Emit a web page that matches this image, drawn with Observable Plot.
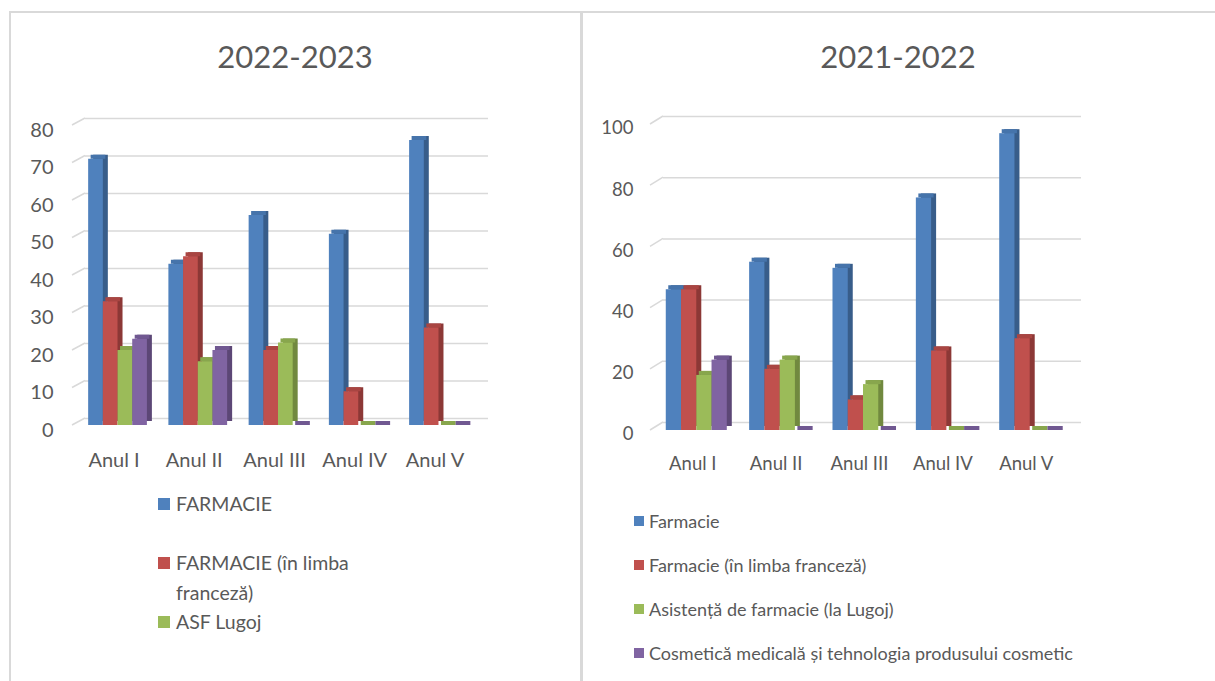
<!DOCTYPE html>
<html>
<head>
<meta charset="utf-8">
<script src="https://cdn.jsdelivr.net/npm/d3@7"></script>
<script src="https://cdn.jsdelivr.net/npm/@observablehq/plot@0.6"></script>
<style>
  html, body { margin: 0; padding: 0; background: #fff; }
  #root { position: relative; width: 1215px; height: 681px; overflow: hidden; background: #fff; font-family: Lato, "Open Sans", sans-serif; color: #595959; }
  .line { position: absolute; background: #D9D9D9; }
  .title { position: absolute; transform: translate(-50%, -50%); font-size: 31px; white-space: nowrap; color: #595959; }
  .chart { position: absolute; top: 100px; }
  .leg { position: absolute; white-space: nowrap; color: #595959; }
  .sw { position: absolute; }
</style>
</head>
<body>
<div id="root">
  <div class="line" style="left:9px; top:11px; width:1206px; height:2px;"></div>
  <div class="line" style="left:9px; top:11px; width:2px; height:670px;"></div>
  <div class="line" style="left:580px; top:11px; width:3px; height:670px;"></div>
  <div class="title" style="left:295px; top:56px;">2022-2023</div>
  <div class="title" style="left:898px; top:56px;">2021-2022</div>
  <div id="left" class="chart" style="left:10px;"></div>
  <div id="right" class="chart" style="left:583px;"></div>
  <div id="legL"></div>
  <div id="legR"></div>
</div>
<script>
// ---- data ----
const categories = ["Anul I", "Anul II", "Anul III", "Anul IV", "Anul V"];

// 2022-2023
const seriesLeft = ["FARMACIE", "FARMACIE (în limba franceză)", "ASF Lugoj", "Cosmetică medicală"];
const leftFarmacie = [71, 43, 56, 51, 76];
const leftFranceza = [33, 45, 20, 9, 26];
const leftAsfLugoj = [20, 17, 22, 0, 0];
const leftCosmetica = [23, 20, 0, 0, 0];
const leftTicks = [0, 10, 20, 30, 40, 50, 60, 70, 80];

// 2021-2022
const seriesRight = ["Farmacie", "Farmacie (în limba franceză)", "Asistență de farmacie (la Lugoj)", "Cosmetică medicală și tehnologia produsului cosmetic"];
const rightFarmacie = [46, 55, 53, 76, 97];
const rightFranceza = [46, 20, 10, 26, 30];
const rightAsistenta = [18, 23, 15, 0, 0];
const rightCosmetica = [23, 0, 0, 0, 0];
const rightTicks = [0, 20, 40, 60, 80, 100];

const frontColors = ["#4F81BD", "#C0504D", "#9BBB59", "#8064A2"];
const topColors = ["#4674AB", "#A94542", "#88A64D", "#705891"];
const sideColors = ["#385D8A", "#8C3836", "#71893F", "#5C4776"];

function buildChart(cfg) {
  const barW = 0.183;
  const marks = [];
  marks.push(Plot.ruleY(cfg.ticks, {y: d => d, stroke: "#D9D9D9", strokeWidth: 1.5, dx: cfg.backDx, dy: cfg.backDy}));
  cfg.series.forEach((vals, s) => {
    const rows = vals.map((v, i) => ({i, v}));
    const x1 = d => d.i - 2 * barW + s * barW;
    const x2 = d => d.i - 2 * barW + (s + 1) * barW;
    marks.push(Plot.rect(rows, {x1, x2, y1: 0, y2: d => d.v, fill: sideColors[s], dx: cfg.depthX, dy: -cfg.depthY}));
    marks.push(Plot.rect(rows, {x1, x2, y1: d => d.v, y2: d => d.v, fill: topColors[s], insetTop: -cfg.depthY, dx: cfg.depthX / 2}));
    marks.push(Plot.rect(rows, {x1, x2, y1: 0, y2: d => d.v, fill: frontColors[s]}));
  });
  marks.push(Plot.text(cfg.ticks, {y: d => d, text: d => String(d), frameAnchor: "left", textAnchor: "end", dx: -cfg.tickPad, dy: cfg.labelDy, fontSize: cfg.fontSize, fill: "#595959"}));
  marks.push(Plot.text(categories, {x: (d, i) => i, text: d => d, frameAnchor: "bottom", lineAnchor: "top", dy: cfg.xPad, dx: -4, fontSize: cfg.fontSize, fill: "#595959"}));

  const chart = Plot.plot({
    width: cfg.width,
    height: 380,
    marginLeft: cfg.marginLeft,
    marginRight: cfg.marginRight,
    marginTop: cfg.marginTop,
    marginBottom: 380 - cfg.baseline,
    x: {domain: [-0.5, 4.5], range: cfg.xRange, axis: null},
    y: {domain: [0, cfg.max], axis: null},
    style: {fontFamily: "Lato, 'Open Sans', sans-serif", fontSize: cfg.fontSize + "px", color: "#595959", background: "transparent", overflow: "visible"},
    marks
  });
  // side diagonals of the back-wall gridlines
  const y = chart.scale("y");
  const g = d3.select(chart).insert("g", ":first-child");
  cfg.ticks.forEach(t => {
    const yy = y.apply(t);
    g.append("line")
      .attr("x1", cfg.marginLeft).attr("y1", yy)
      .attr("x2", cfg.marginLeft + cfg.backDx).attr("y2", yy + cfg.backDy)
      .attr("stroke", "#D9D9D9").attr("stroke-width", 1.5);
  });
  return chart;
}

document.getElementById("left").appendChild(buildChart({
  width: 570, marginLeft: 62, marginRight: 105, marginTop: 25, baseline: 325,
  xRange: [67.4, 468.6], max: 80, ticks: leftTicks,
  series: [leftFarmacie, leftFranceza, leftAsfLugoj, leftCosmetica],
  backDx: 13, backDy: -7, depthX: 5, depthY: 4, tickPad: 19, labelDy: 5, xPad: 27, fontSize: 20
}));
document.getElementById("right").appendChild(buildChart({
  width: 632, marginLeft: 67, marginRight: 147, marginTop: 24, baseline: 330,
  xRange: [71.6, 488.4], max: 100, ticks: rightTicks,
  series: [rightFarmacie, rightFranceza, rightAsistenta, rightCosmetica],
  backDx: 13, backDy: -8, depthX: 5, depthY: 4, tickPad: 17, labelDy: 4, xPad: 26, fontSize: 18.5
}));

// legends (HTML)
function legend(container, items) {
  const root = document.getElementById(container);
  items.forEach(it => {
    const sw = document.createElement("div");
    sw.className = "sw";
    sw.style.cssText = `left:${it.sx}px; top:${it.cy - it.size / 2}px; width:${it.size}px; height:${it.size}px; background:${it.color};`;
    root.appendChild(sw);
    it.lines.forEach((ln, k) => {
      const t = document.createElement("div");
      t.className = "leg";
      t.style.cssText = `left:${it.tx}px; top:${it.cy + k * it.lh}px; transform:translateY(-50%); font-size:${it.fs}px; line-height:1;`;
      t.textContent = ln;
      root.appendChild(t);
    });
  });
}
legend("legL", [
  {color: frontColors[0], lines: [seriesLeft[0]], cy: 504, sx: 158, size: 12, tx: 176, fs: 19.5, lh: 30},
  {color: frontColors[1], lines: ["FARMACIE (în limba", "franceză)"], cy: 563, sx: 158, size: 12, tx: 176, fs: 19.5, lh: 30},
  {color: frontColors[2], lines: [seriesLeft[2]], cy: 622, sx: 158, size: 12, tx: 176, fs: 19.5, lh: 30}
]);
legend("legR", seriesRight.map((name, k) => ({
  color: frontColors[k], lines: [name], cy: 521 + k * 44, sx: 634, size: 10, tx: 649, fs: 18, lh: 0
})));
</script>
</body>
</html>
